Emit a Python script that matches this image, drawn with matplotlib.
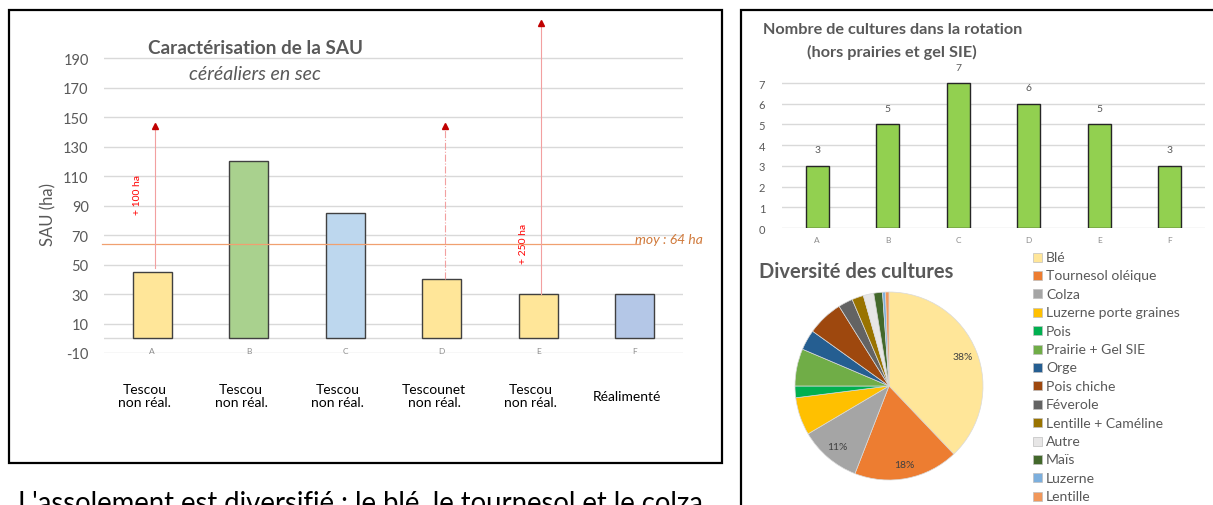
import matplotlib
matplotlib.use("Agg")
import matplotlib.pyplot as plt
from matplotlib.patches import Rectangle

plt.rcParams['font.family'] = ['Lato', 'DejaVu Sans']

W, H = 1213, 506

# --- SAU chart data
farms = ['A', 'B', 'C', 'D', 'E', 'F']
sau = [45, 120, 85, 40, 30, 30]
sau_colors = ['#FFE699', '#A9D18E', '#BDD7EE', '#FFE699', '#FFE699', '#B4C7E7']
farm_types = ['Tescou\nnon réal.', 'Tescou\nnon réal.', 'Tescou\nnon réal.',
              'Tescounet\nnon réal.', 'Tescou\nnon réal.', 'Réalimenté']
sau_mean = 64
sau_ticks = list(range(-10, 200, 20))

# extensions (arrows): farm index, start, end, label, label height
ext_idx = [0, 3, 4]
ext_start = [48, 40, 30]
ext_end = [145, 145, 215]
ext_label = ['+ 100 ha', '', '+ 250 ha']
ext_label_y = [98, 0, 65]
ext_style = ['-', '-.', '-']

# --- rotation chart data
n_cultures = [3, 5, 7, 6, 5, 3]

# --- pie data
crops = ['Blé', 'Tournesol oléique', 'Colza', 'Luzerne porte graines', 'Pois',
         'Prairie + Gel SIE', 'Orge', 'Pois chiche', 'Féverole',
         'Lentille + Caméline', 'Autre', 'Maïs', 'Luzerne', 'Lentille']
shares = [37.9, 18.0, 10.6, 6.5, 2.0, 6.4, 3.5, 6.2, 2.5, 2.0, 1.8, 1.5, 0.5, 0.6]
crop_colors = ['#FFE699', '#ED7D31', '#A5A5A5', '#FFC000', '#00B050', '#70AD47',
               '#255E91', '#9E480E', '#636363', '#997300', '#E7E6E6', '#43682B',
               '#7CAFDD', '#F1975A']

gray = '#595959'
grid = '#D9D9D9'

fig = plt.figure(figsize=(W / 100, H / 100), dpi=100)


def fx(x):
    return x / W


def fy(y):
    return 1 - y / H


# frames
fig.add_artist(Rectangle((fx(9), fy(464)), fx(713), (464 - 11) / H, fill=False,
                         edgecolor='black', lw=1.6, transform=fig.transFigure))
fig.add_artist(Rectangle((fx(741), fy(530)), fx(500), (530 - 11) / H, fill=False,
                         edgecolor='black', lw=1.6, transform=fig.transFigure))

# ---------------- left chart
ax = fig.add_axes([fx(104), fy(354), fx(579), (354 - 44.5) / H])
x = range(len(farms))
ax.bar(x, sau, width=0.4, color=sau_colors, edgecolor='#404040', lw=1.0, zorder=3)
ax.set_xlim(-0.5, 5.5)
ax.set_ylim(-10, 200)
ax.set_yticks(sau_ticks)
ax.set_yticklabels([str(t) for t in sau_ticks], color=gray, fontsize=10.5)
ax.tick_params(axis='y', length=0, pad=11)
ax.set_xticks([])
for s in ax.spines.values():
    s.set_visible(False)
for t in sau_ticks:
    ax.axhline(t, color=grid, lw=1, zorder=1)
ax.axhline(0, color=grid, lw=1, zorder=1)
for i, f in enumerate(farms):
    ax.text(i, -8.5, f, ha='center', va='center', fontsize=6, color='#8c8c8c')
    ax.text(i - 0.08, -39, farm_types[i], ha='center', va='center', fontsize=10,
            color='black', linespacing=1.1, clip_on=False)

# mean line
ax.plot([-0.52, 5.05], [sau_mean, sau_mean], color='#F0A070', lw=0.9, zorder=4,
        clip_on=False)
ax.text(5.0, 67.5, 'moy : %d ha' % sau_mean, color='#D07A3C', fontsize=10,
        style='italic', ha='left', va='center', clip_on=False)

# extension arrows
for i, s0, s1, lab, ly, ls in zip(ext_idx, ext_start, ext_end, ext_label,
                                  ext_label_y, ext_style):
    xa = i + 0.03
    ax.plot([xa, xa], [s0, s1 - 3], color='#F2A0A0', lw=0.8, ls=ls, zorder=5,
            clip_on=False)
    ax.plot([xa], [s1 - 1], marker='^', color='#C00000', ms=4.5, zorder=6,
            clip_on=False)
    if lab:
        ax.text(i - 0.15, ly, lab, rotation=90, color='#FF0000', fontsize=7.5,
                ha='center', va='center', clip_on=False)

fig.text(fx(255), fy(49), 'Caractérisation de la SAU', ha='center', va='center',
         fontsize=13.6, fontweight='bold', color=gray)
fig.text(fx(255), fy(75), 'céréaliers en sec', ha='center', va='center',
         fontsize=14, style='italic', color=gray)
fig.text(fx(48), fy(215), 'SAU (ha)', rotation=90, ha='center', va='center',
         fontsize=12, color=gray)

# ---------------- rotation chart
ax2 = fig.add_axes([fx(782), fy(229), fx(423), (229 - 73.7) / H])
ax2.bar(x, n_cultures, width=0.32, color='#92D050', edgecolor='#262626', lw=1.0,
        zorder=3)
ax2.set_xlim(-0.5, 5.5)
ax2.set_ylim(0, 7.5)
ax2.set_yticks(range(0, 8))
ax2.yaxis.grid(True, color=grid, lw=1)
ax2.set_axisbelow(True)
ax2.tick_params(axis='y', length=0, pad=12, labelsize=8, labelcolor=gray)
ax2.set_xticks(list(x))
ax2.set_xticklabels(farms, fontsize=6, color='#8c8c8c')
ax2.tick_params(axis='x', length=0, pad=6)
for s in ax2.spines.values():
    s.set_visible(False)
for i, v in enumerate(n_cultures):
    ax2.annotate(str(v), (i, v), xytext=(0, 11.5), textcoords='offset points',
                 ha='center', va='center', fontsize=7.5, color=gray)
fig.text(fx(893), fy(30), 'Nombre de cultures dans la rotation', ha='center',
         va='center', fontsize=11.7, fontweight='bold', color=gray)
fig.text(fx(892), fy(52), '(hors prairies et gel SIE)', ha='center',
         va='center', fontsize=11.7, fontweight='bold', color=gray)

# ---------------- pie chart
ax3 = fig.add_axes([fx(889 - 94), fy(387 + 94), fx(188), 188 / H])
wedges, texts, autotexts = ax3.pie(
    shares, colors=crop_colors, startangle=90, counterclock=False,
    autopct=lambda p: '%d%%' % round(p) if p >= 10 else '', pctdistance=0.85,
    wedgeprops=dict(edgecolor='#D9D9D9', lw=0.5),
    textprops=dict(fontsize=7.5, color='#404040'))
ax3.set_xlim(-1, 1)
ax3.set_ylim(-1, 1)
ax3.set_aspect('equal')
fig.text(fx(759), fy(272), 'Diversité des cultures', ha='left', va='center',
         fontsize=14.5, fontweight='bold', color=gray)

# legend drawn by hand (it runs down to the page edge)
row_h = 18.4
for k, (name, c) in enumerate(zip(crops, crop_colors)):
    yc = 258 + k * row_h
    fig.add_artist(Rectangle((fx(1033), fy(yc + 4.5)), fx(9), 9 / H,
                             facecolor=c, edgecolor='#BFBFBF', lw=0.5,
                             transform=fig.transFigure))
    fig.text(fx(1046), fy(yc), name, ha='left', va='center', fontsize=10.1,
             color=gray)

# bottom text, cut off by the page
fig.text(fx(18), fy(490), "L'assolement est diversifié : le blé, le tournesol et le colza",
         ha='left', va='top', fontsize=19.8, color='black')

fig.savefig('out.png', dpi=100)
